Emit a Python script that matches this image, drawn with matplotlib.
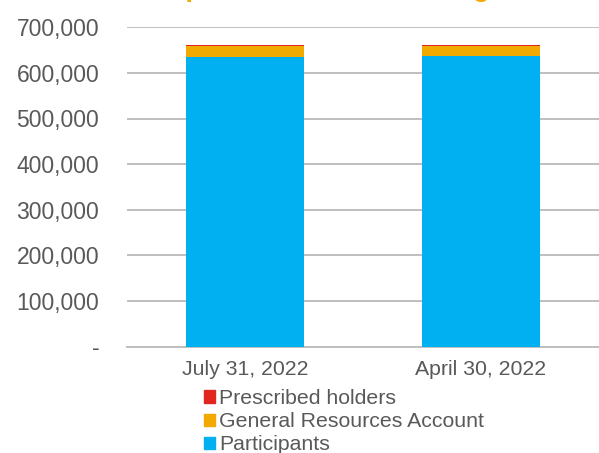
import matplotlib
matplotlib.use("Agg")
import matplotlib.pyplot as plt
from matplotlib.patches import Patch
from matplotlib.ticker import FuncFormatter

categories = ["July 31, 2022", "April 30, 2022"]
participants = [634500, 636000]
gra = [24300, 23000]
prescribed = [1900, 1700]
series_names = ["Participants", "General Resources Account", "Prescribed holders"]
title = "Composition of SDR Holdings"

plt.rcParams['font.family'] = ['Liberation Sans', 'DejaVu Sans']
TXT = '#595959'
C_BLUE = '#00B0F0'
C_ORANGE = '#F2A900'
C_RED = '#E0261E'

W, H = 599, 453
fig = plt.figure(figsize=(W / 100, H / 100), dpi=100)
ax = fig.add_axes([127 / W, 1 - 346.5 / H, (W - 127) / W, (346.5 - 27.3) / H])

x = list(range(len(categories)))
ax.bar(x, participants, width=0.5, color=C_BLUE, linewidth=0, zorder=3)
b2 = [p for p in participants]
ax.bar(x, gra, width=0.5, bottom=b2, color=C_ORANGE, linewidth=0, zorder=3)
b3 = [p + g for p, g in zip(participants, gra)]
ax.bar(x, prescribed, width=0.5, bottom=b3, color=C_RED, linewidth=0, zorder=3)

ax.set_xlim(-0.5, 1.5)
ax.set_ylim(0, 700000)
ax.set_yticks(range(0, 700001, 100000))
ax.yaxis.set_major_formatter(FuncFormatter(lambda v, p: '-' if v == 0 else f'{v:,.0f}'))
ax.set_xticks(x)
ax.set_xticklabels(categories)
ax.tick_params(axis='y', length=0, pad=20, labelsize=16.5, labelcolor=TXT)
ax.tick_params(axis='x', length=0, pad=10, labelsize=15.3, labelcolor=TXT)
ax.grid(axis='y', color='#BFBFBF', linewidth=1.4, zorder=0)
ax.set_axisbelow(True)
for s in ['top', 'right', 'left']:
    ax.spines[s].set_visible(False)
ax.spines['bottom'].set_color('#BFBFBF')
ax.spines['bottom'].set_linewidth(1.4)

handles = [Patch(color=C_RED), Patch(color=C_ORANGE), Patch(color=C_BLUE)]
labels = [series_names[2], series_names[1], series_names[0]]
leg = fig.legend(handles, labels, loc='upper left',
                 bbox_to_anchor=(204 / W, 1 - 389 / H),
                 frameon=False, fontsize=15.3, handlelength=0.5, handleheight=0.5,
                 handletextpad=0.2, labelspacing=0.2, borderpad=0, borderaxespad=0)
for t in leg.get_texts():
    t.set_color(TXT)

fig.text(127 / W, 1 + 2.6 / H, title, ha='left', va='baseline',
         fontsize=19, fontweight='bold', color='#F2A900')

fig.savefig('out.png', dpi=100)
